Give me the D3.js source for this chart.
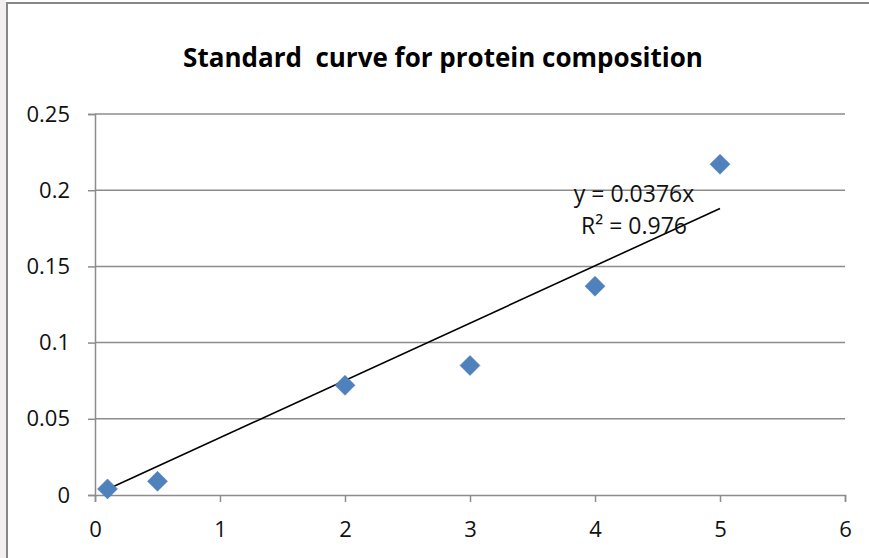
<!DOCTYPE html>
<html>
<head>
<meta charset="utf-8">
<script src="https://cdn.jsdelivr.net/npm/d3@7"></script>
<style>
  html, body { margin: 0; padding: 0; background: #fff; }
  svg { display: block; }
  text { font-family: "Open Sans", "Liberation Sans", sans-serif; }
</style>
</head>
<body>
<svg id="chart" width="869" height="558"></svg>
<script>
// Protein standard: concentration vs absorbance
const concentration = [0.1, 0.5, 2, 3, 4, 5];
const absorbance = [0.004, 0.009, 0.072, 0.085, 0.137, 0.217];
const xTicks = [0, 1, 2, 3, 4, 5, 6];
const yTicks = [0, 0.05, 0.1, 0.15, 0.2, 0.25];
const slope = 0.0376;
const rSquared = 0.976;
const title = "Standard  curve for protein composition";

const FONT = "'Open Sans', 'Liberation Sans', sans-serif";
const svg = d3.select("#chart");
const W = 869, H = 558;
const plot = { left: 95, right: 845, top: 114, bottom: 495 };

// page strip to the left of the chart frame
svg.append("rect").attr("x", 0).attr("y", 0).attr("width", 6).attr("height", H)
  .attr("fill", "#f3eff1");
// chart frame (top and left edges visible)
svg.append("path")
  .attr("d", `M7,${H} V3 H${W}`)
  .attr("fill", "none").attr("stroke", "#878787").attr("stroke-width", 2);

const x = d3.scaleLinear().domain([0, 6]).range([plot.left, plot.right]);
const y = d3.scaleLinear().domain([0, 0.25]).range([plot.bottom, plot.top]);

// horizontal gridlines
svg.append("g").selectAll("line").data(yTicks.filter(d => d > 0)).join("line")
  .attr("x1", plot.left).attr("x2", plot.right)
  .attr("y1", d => y(d)).attr("y2", d => y(d))
  .attr("stroke", "#8c8c8c").attr("stroke-width", 1.5);

// y axis
const yAxis = svg.append("g").attr("transform", `translate(${plot.left},0)`)
  .call(d3.axisLeft(y).tickValues(yTicks).tickFormat(d => String(d)).tickSize(7).tickPadding(18));
yAxis.select(".domain").attr("stroke", "#8c8c8c").attr("stroke-width", 1.5);
yAxis.selectAll(".tick line").attr("stroke", "#8c8c8c").attr("stroke-width", 1.5);
yAxis.selectAll(".tick text").attr("font-size", 22).attr("fill", "#111")
  .attr("font-family", FONT);

// x axis
const xAxis = svg.append("g").attr("transform", `translate(0,${plot.bottom})`)
  .call(d3.axisBottom(x).tickValues(xTicks).tickFormat(d => String(d)).tickSize(7).tickPadding(19));
xAxis.select(".domain").attr("stroke", "#8c8c8c").attr("stroke-width", 1.5);
xAxis.selectAll(".tick line").attr("stroke", "#8c8c8c").attr("stroke-width", 1.5);
xAxis.selectAll(".tick text").attr("font-size", 22).attr("fill", "#111")
  .attr("font-family", FONT);

// linear trendline through the origin, spanning the data range
const xMin = d3.min(concentration), xMax = d3.max(concentration);
svg.append("line")
  .attr("x1", x(xMin)).attr("y1", y(slope * xMin))
  .attr("x2", x(xMax)).attr("y2", y(slope * xMax))
  .attr("stroke", "#000").attr("stroke-width", 1.6);

// diamond markers
const diamond = d3.symbol().type(d3.symbolSquare).size(200);
svg.append("g").selectAll("path").data(concentration).join("path")
  .attr("d", diamond)
  .attr("transform", (d, i) => `translate(${x(d)},${y(absorbance[i])}) rotate(45)`)
  .attr("fill", "#4f81bd").attr("stroke", "#4a7ab5").attr("stroke-width", 0.5);

// trendline equation
svg.append("text").attr("x", 634).attr("y", 202).attr("text-anchor", "middle")
  .attr("font-size", 23).attr("fill", "#111").text(`y = ${slope}x`);
svg.append("text").attr("x", 634).attr("y", 234).attr("text-anchor", "middle")
  .attr("font-size", 23).attr("fill", "#111").text(`R² = ${rSquared}`);

// title
svg.append("text").attr("x", 443).attr("y", 67).attr("text-anchor", "middle")
  .attr("font-size", 26).attr("font-weight", "bold").attr("fill", "#000")
  .attr("xml:space", "preserve").style("white-space", "pre").text(title);
</script>
</body>
</html>
